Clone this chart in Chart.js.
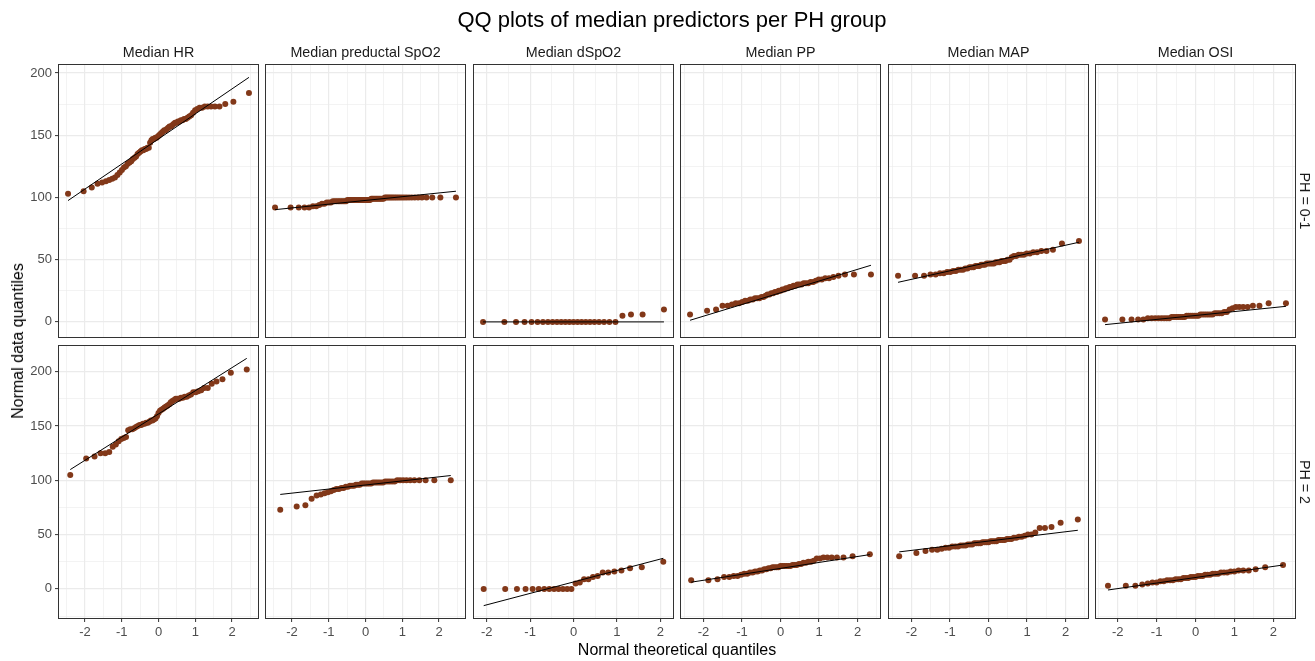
<!DOCTYPE html>
<html>
<head>
<meta charset="utf-8">
<script src="https://cdn.jsdelivr.net/npm/chart.js@4.4.1/dist/chart.umd.min.js"></script>
<style>
  html, body { margin: 0; padding: 0; background: #fff; }
  body { width: 1315px; height: 661px; position: relative; overflow: hidden;
         font-family: "Liberation Sans", Arial, sans-serif; }
  .lbl { position: absolute; white-space: nowrap; line-height: 1; }
  canvas { position: absolute; }
</style>
</head>
<body>
<script>
// ---- facets ----
const variables = ['Median HR', 'Median preductal SpO2', 'Median dSpO2', 'Median PP', 'Median MAP', 'Median OSI'];
const groups = ['PH = 0-1', 'PH = 2'];
const xTickLabels = [-2, -1, 0, 1, 2];
const yTickLabels = [0, 50, 100, 150, 200];

// ---- sorted sample values, PH = 0-1 ----
const hrLow = [103,105,108,111,112,113,114,115,116,118,120,122,124,125,127,128,129,131,132,133,135,136,137,138,138,139,139,140,140,144,146,147,147,148,148,149,150,151,152,153,154,154,155,156,157,157,158,159,160,160,161,161,162,162,163,163,164,165,166,168,170,171,172,172,173,173,173,173,173,175,177,184];
const spo2Low = [92,92,92,92,92,93,93,94,95,95,96,96,96,97,97,97,97,97,97,97,97,97,98,98,98,98,98,98,98,98,98,98,98,98,98,98,98,98,98,98,99,99,99,99,99,99,99,99,99,99,100,100,100,100,100,100,100,100,100,100,100,100,100,100,100,100,100,100,100,100,100,100];
const dspo2Low = [0,0,0,0,0,0,0,0,0,0,0,0,0,0,0,0,0,0,0,0,0,0,0,5,6,6,10];
const ppLow = [6,9,10,13,13,14,15,15,16,17,17,18,18,19,19,19,20,20,21,22,22,23,23,24,24,25,25,26,26,27,27,28,28,29,29,30,30,30,31,31,31,32,32,33,34,34,35,35,36,37,38,38,38];
const mapLow = [37,37,37,38,38,39,39,40,40,41,41,42,42,42,43,43,44,44,44,45,45,45,46,46,46,47,47,47,47,47,48,48,48,49,49,49,50,50,52,53,53,54,54,54,55,55,56,56,57,57,58,63,65];
const osiLow = [2,2,2,2,2,3,3,3,3,3,3,3,3,4,4,4,4,4,4,4,5,5,5,5,5,5,5,6,6,6,6,6,6,6,7,7,7,7,8,8,10,11,12,12,12,12,13,13,15,15];

// ---- sorted sample values, PH = 2 ----
const hrHigh = [105,120,122,125,125,126,131,133,136,138,139,140,146,147,147,148,149,150,151,151,152,152,153,153,154,155,155,156,157,159,162,164,165,166,167,168,169,170,172,173,174,175,175,175,176,176,177,177,178,179,181,181,182,183,185,185,189,191,193,199,202];
const spo2High = [73,76,77,83,86,87,88,89,90,91,92,92,93,93,94,94,95,95,95,96,96,96,97,97,97,97,97,97,98,98,98,98,98,98,99,99,99,99,99,100,100,100,100,100,100,100,100,100,100];
const dspo2High = [0,0,0,0,0,0,0,0,0,0,0,0,0,5,6,9,9,11,12,15,15,16,17,19,20,25];
const ppHigh = [8,8,9,11,11,12,12,13,14,14,15,15,16,16,17,17,18,18,19,19,20,20,20,20,21,21,21,21,21,21,22,22,22,23,23,24,24,25,25,26,28,28,29,29,29,29,29,30,32];
const mapHigh = [30,33,35,36,36,37,38,38,39,39,39,40,40,40,41,41,41,42,42,42,42,43,43,43,43,44,44,44,44,45,45,45,45,46,46,46,47,47,48,48,49,50,50,52,56,56,57,61,64];
const osiHigh = [3,3,3,4,5,6,6,7,7,8,8,8,9,9,9,10,10,10,11,11,11,12,12,12,13,13,13,14,14,14,15,15,15,16,16,17,17,17,18,20,22];

// ---- reference line values at the lowest and highest theoretical quantile ----
const hrLowLine = [97.5, 196.5],  spo2LowLine = [90.2, 105],  dspo2LowLine = [0, 0];
const ppLowLine = [1.3, 45.5],    mapLowLine = [31.8, 64],    osiLowLine = [-2.2, 12.5];
const hrHighLine = [109.9, 212.3], spo2HighLine = [87, 104.4], dspo2HighLine = [-15.4, 28.2];
const ppHighLine = [6.2, 31.6],    mapHighLine = [34.1, 54],   osiHighLine = [-1, 22];

const samples = [
  [hrLow, spo2Low, dspo2Low, ppLow, mapLow, osiLow],
  [hrHigh, spo2High, dspo2High, ppHigh, mapHigh, osiHigh]
];
const refLines = [
  [hrLowLine, spo2LowLine, dspo2LowLine, ppLowLine, mapLowLine, osiLowLine],
  [hrHighLine, spo2HighLine, dspo2HighLine, ppHighLine, mapHighLine, osiHighLine]
];

// ---- layout ----
const COL_LEFT = [59, 266, 474, 681, 889, 1096];
const ROW_TOP = [65, 346];
const PW = 199, PHT = 272, M = 50;
const POINT = '#823819';
const FONT = '"Liberation Sans", Arial, sans-serif';

// inverse standard normal CDF (Acklam)
function qnorm(p) {
  const a = [-3.969683028665376e+01, 2.209460984245205e+02, -2.759285104469687e+02, 1.383577518672690e+02, -3.066479806614716e+01, 2.506628277459239e+00];
  const b = [-5.447609879822406e+01, 1.615858368580409e+02, -1.556989798598866e+02, 6.680131188771972e+01, -1.328068155288572e+01];
  const c = [-7.784894002430293e-03, -3.223964580411365e-01, -2.400758277161838e+00, -2.549732539343734e+00, 4.374664141464968e+00, 2.938163982698783e+00];
  const d = [7.784695709041462e-03, 3.224671290700398e-01, 2.445134137142996e+00, 3.754408661907416e+00];
  const pl = 0.02425;
  let q, r;
  if (p < pl) {
    q = Math.sqrt(-2 * Math.log(p));
    return (((((c[0]*q+c[1])*q+c[2])*q+c[3])*q+c[4])*q+c[5]) / ((((d[0]*q+d[1])*q+d[2])*q+d[3])*q+1);
  }
  if (p > 1 - pl) {
    q = Math.sqrt(-2 * Math.log(1 - p));
    return -(((((c[0]*q+c[1])*q+c[2])*q+c[3])*q+c[4])*q+c[5]) / ((((d[0]*q+d[1])*q+d[2])*q+d[3])*q+1);
  }
  q = p - 0.5; r = q * q;
  return (((((a[0]*r+a[1])*r+a[2])*r+a[3])*r+a[4])*r+a[5])*q / (((((b[0]*r+b[1])*r+b[2])*r+b[3])*r+b[4])*r+1);
}

// theoretical normal quantiles for a sorted sample of size n (ppoints)
function theoretical(n) {
  const a = n <= 10 ? 0.375 : 0.5;
  return Array.from({ length: n }, (_, i) => qnorm((i + 1 - a) / (n + 1 - 2 * a)));
}

// x limits per column, y limits per row (5% expansion)
const xLim = variables.map((_, c) => {
  const qmax = Math.max(...samples.map(row => { const q = theoretical(row[c].length); return q[q.length - 1]; }));
  return 1.1 * qmax;
});
const yLim = samples.map((row, r) => {
  const all = [];
  row.forEach((s, c) => { all.push(...s, ...refLines[r][c]); });
  const lo = Math.min(...all), hi = Math.max(...all), e = (hi - lo) * 0.05;
  return [lo - e, hi + e];
});

function tickList(lo, hi, step, start, end) {
  const out = [];
  for (let v = start; v <= end + 1e-9; v += step) if (v >= lo && v <= hi) out.push(Math.round(v * 100) / 100);
  return out;
}

const panelFrame = {
  id: 'panelFrame',
  afterDatasetsDraw(chart) {
    const { ctx, chartArea: a } = chart;
    ctx.save();
    ctx.strokeStyle = '#333333';
    ctx.lineWidth = 1;
    ctx.strokeRect(a.left - 0.5, a.top - 0.5, a.right - a.left + 1, a.bottom - a.top + 1);
    ctx.restore();
  }
};

function addText(text, x, y, size, color, rot) {
  const d = document.createElement('div');
  d.className = 'lbl';
  d.textContent = text;
  d.style.left = x + 'px';
  d.style.top = y + 'px';
  d.style.fontSize = size + 'px';
  d.style.color = color;
  d.style.transform = 'translate(-50%, -50%)' + (rot ? ' rotate(' + rot + 'deg)' : '');
  document.body.appendChild(d);
}

samples.forEach((row, r) => {
  row.forEach((vals, c) => {
    const q = theoretical(vals.length);
    const line = refLines[r][c];
    const showY = c === 0, showX = r === samples.length - 1;
    const yW = showY ? 40 : 0, xH = showX ? 30 : 0;
    const xl = xLim[c], [ylo, yhi] = yLim[r];
    const xTicks = tickList(-xl, xl, 0.5, -3, 3);
    const yTicks = tickList(ylo, yhi, 25, -50, 250);

    const cv = document.createElement('canvas');
    cv.width = PW + 2 * M;
    cv.height = PHT + 2 * M;
    cv.style.left = (COL_LEFT[c] - M) + 'px';
    cv.style.top = (ROW_TOP[r] - M) + 'px';
    document.body.appendChild(cv);

    const gridOpts = (majors, show) => ({
      color: '#EBEBEB',
      lineWidth: ctx => majors.includes(ctx.tick ? ctx.tick.value : NaN) ? 1.2 : 0.6,
      drawTicks: show,
      tickLength: 4,
      tickWidth: 1,
      tickColor: ctx => majors.includes(ctx.tick ? ctx.tick.value : NaN) ? '#333333' : 'rgba(0,0,0,0)'
    });

    new Chart(cv, {
      type: 'scatter',
      data: {
        datasets: [
          {
            data: [{ x: q[0], y: line[0] }, { x: q[q.length - 1], y: line[1] }],
            showLine: true, borderColor: '#000000', borderWidth: 1, pointRadius: 0
          },
          {
            data: vals.map((v, i) => ({ x: q[i], y: v })),
            backgroundColor: POINT, borderWidth: 0, pointRadius: 3
          }
        ]
      },
      options: {
        responsive: false, animation: false, devicePixelRatio: 1,
        layout: { padding: { left: M - yW, right: M, top: M, bottom: M - xH } },
        plugins: { legend: { display: false }, tooltip: { enabled: false } },
        scales: {
          x: {
            type: 'linear', min: -xl, max: xl,
            afterBuildTicks: s => { s.ticks = xTicks.map(v => ({ value: v })); },
            afterFit: s => { s.height = xH; },
            border: { display: false },
            grid: gridOpts(xTickLabels, showX),
            ticks: {
              display: showX, autoSkip: false, maxRotation: 0, padding: 3,
              color: '#4D4D4D', font: { family: FONT, size: 13 },
              callback: v => xTickLabels.includes(v) ? String(v) : ''
            }
          },
          y: {
            type: 'linear', min: ylo, max: yhi,
            afterBuildTicks: s => { s.ticks = yTicks.map(v => ({ value: v })); },
            afterFit: s => { s.width = yW; },
            border: { display: false },
            grid: gridOpts(yTickLabels, showY),
            ticks: {
              display: showY, autoSkip: false, padding: 3,
              color: '#4D4D4D', font: { family: FONT, size: 13 },
              callback: v => yTickLabels.includes(v) ? String(v) : ''
            }
          }
        }
      },
      plugins: [panelFrame]
    });
  });
});

// titles and strips
addText('QQ plots of median predictors per PH group', 672, 20, 22, '#000000');
variables.forEach((v, c) => addText(v, COL_LEFT[c] + PW / 2, 52, 14.3, '#1A1A1A'));
groups.forEach((g, r) => addText(g, 1305, ROW_TOP[r] + PHT / 2, 14.3, '#1A1A1A', 90));
addText('Normal theoretical quantiles', 677, 650, 16, '#000000');
addText('Normal data quantiles', 18, 341, 16, '#000000', -90);
</script>
</body>
</html>
